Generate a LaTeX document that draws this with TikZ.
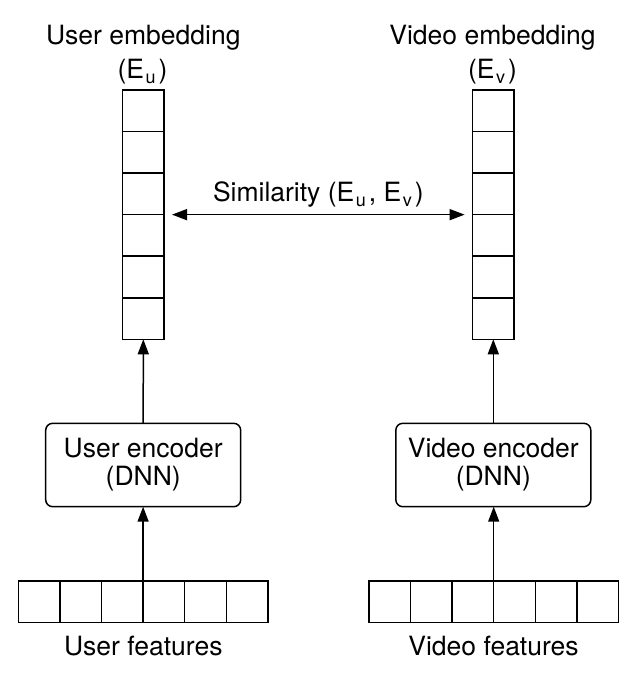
\documentclass[tikz,border=0pt]{standalone}
\usepackage{fontspec}
\setmainfont{TeX Gyre Heros}
\usetikzlibrary{arrows.meta}
\newcommand{\sbs}[1]{\hspace{1.5pt}\raisebox{-5pt}{\fontsize{18}{18}\selectfont #1}\hspace{3pt}}
\begin{document}
\begin{tikzpicture}[x=1pt,y=-1pt,
 every node/.style={font=\fontsize{26.5}{28}\selectfont},
 cell/.style={draw, line width=1.5pt, minimum width=41.4pt, minimum height=41.55pt, inner sep=0pt, outer sep=0pt},
 hcell/.style={draw, line width=1.5pt, minimum width=41.6pt, minimum height=41.3pt, inner sep=0pt, outer sep=0pt},
 enc/.style={draw, rounded corners=7pt, line width=1.5pt, minimum width=195pt, minimum height=83.4pt, align=center, inner sep=0pt, outer sep=0pt},
 lbl/.style={anchor=base, inner sep=0pt},
 conn/.style={line width=1.5pt, -{Triangle[length=15pt,width=11pt]}},
]
\useasboundingbox (0,0) rectangle (636,690);
\foreach \i in {1,...,6} {
  \node[cell] (u\i) at (143.3, {90+41.55*(\i-0.5)}) {};
  \node[cell] (v\i) at (493.3, {90+41.55*(\i-0.5)}) {};
  \node[hcell] (uf\i) at ({18.3+41.6*(\i-0.5)}, 601.6) {};
  \node[hcell] (vf\i) at ({368.9+41.6*(\i-0.5)}, 601.6) {};
}
\node[enc] (uenc) at (143.2,465) {User encoder\\(DNN)};
\node[enc] (venc) at (493.3,465) {Video encoder\\(DNN)};

\node[lbl] (ut) at (143.3,45) {User embedding};
\node[lbl] (ue) at (142.5,78.5) {(E\sbs{u})};
\node[lbl] (vt) at (492.5,45) {Video embedding};
\node[lbl] (ve) at (492.5,78.5) {(E\sbs{v})};
\node[lbl] (sim) at (318.3,201.7) {Similarity (E\sbs{u}, E\sbs{v})};
\node[lbl] (uft) at (143.3,655) {User features};
\node[lbl] (vft) at (493.5,655) {Video features};

\draw[conn] (uf3.north east) -- (uf3.north east |- uenc.south);
\draw[conn] (vf3.north east) -- (vf3.north east |- venc.south);
\draw[conn] (uenc.north) -- (u6.south);
\draw[conn] (venc.north) -- (v6.south);
\draw[line width=1.5pt, {Triangle[length=15pt,width=11pt]}-{Triangle[length=15pt,width=11pt]}]
  ([xshift=8pt]u4.north east) -- ([xshift=-8pt]v4.north west);
\end{tikzpicture}
\end{document}
